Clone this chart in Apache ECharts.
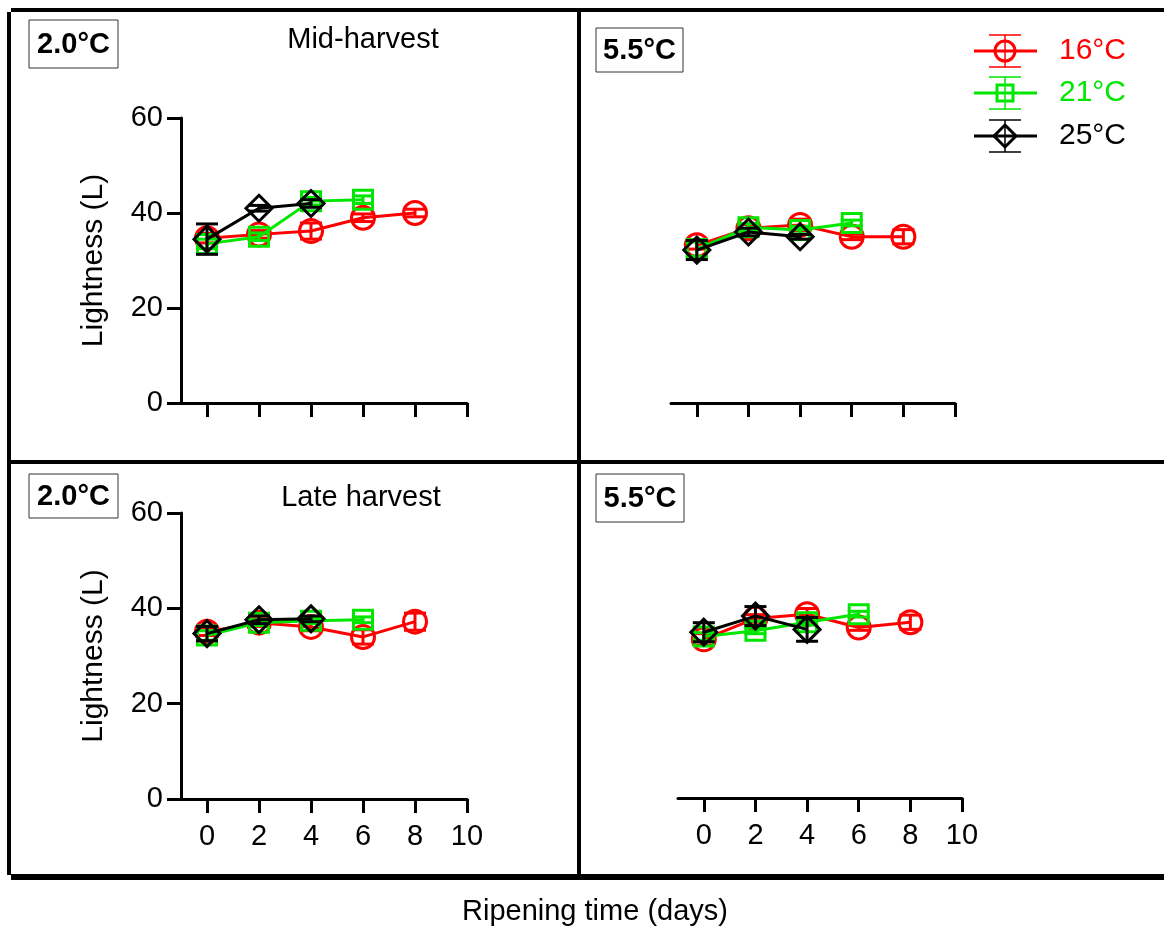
<!DOCTYPE html>
<html>
<head>
<meta charset="utf-8">
<script src="https://cdn.jsdelivr.net/npm/echarts@6/dist/echarts.min.js"></script>
<style>
  html, body { margin: 0; padding: 0; background: #fff; }
  #chart { width: 1164px; height: 930px; }
</style>
</head>
<body>
<div id="chart"></div>
<script>
// ripening days
const days = [0, 2, 4, 6, 8];
const dayTicks = [0, 2, 4, 6, 8, 10];

// Mid-harvest, stored at 2.0°C
const mid20_16 = [34.7, 35.5, 36.2, 39.0, 40.0];
const mid20_16err = [1.0, 0.8, 1.7, 0.8, 0.8];
const mid20_21 = [33.5, 35.0, 42.5, 42.8];
const mid20_21err = [1.0, 0.8, 0.8, 0.8];
const mid20_25 = [34.5, 41.0, 42.0];
const mid20_25err = [3.2, 0.6, 0.8];

// Mid-harvest, stored at 5.5°C
const mid55_16 = [33.2, 36.8, 37.5, 35.0, 35.0];
const mid55_16err = [0.8, 0.8, 1.2, 0.6, 1.5];
const mid55_21 = [32.4, 37.0, 36.4, 37.9];
const mid55_21err = [1.5, 0.8, 0.8, 0.6];
const mid55_25 = [32.2, 36.0, 35.0];
const mid55_25err = [2.0, 0.8, 0.5];

// Late harvest, stored at 2.0°C
const late20_16 = [35.1, 37.0, 36.1, 34.0, 37.2];
const late20_16err = [0.8, 0.8, 0.8, 1.5, 1.8];
const late20_21 = [34.3, 37.0, 37.4, 37.6];
const late20_21err = [1.0, 0.6, 0.6, 0.6];
const late20_25 = [34.7, 37.6, 37.8];
const late20_25err = [1.5, 0.8, 0.6];

// Late harvest, stored at 5.5°C
const late55_16 = [33.4, 37.8, 38.7, 35.9, 37.0];
const late55_16err = [1.2, 0.8, 1.2, 0.6, 1.5];
const late55_21 = [34.0, 35.2, 37.0, 38.7];
const late55_21err = [0.8, 0.6, 0.6, 0.6];
const late55_25 = [34.9, 38.3, 35.5];
const late55_25err = [2.0, 2.0, 2.5];

const temps = ['16°C', '21°C', '25°C'];
const colors = ['#ff0000', '#00e600', '#000000'];
const symbols = ['circle', 'rect', 'diamond'];
const symbolSizes = [23, 19, 26];

const FONT = 'Liberation Sans, Arial, sans-serif';

const panels = [
  { grid: { left: 181, top: 118, width: 286, height: 285 }, labels: false, yShow: true,
    sets: [[mid20_16, mid20_16err], [mid20_21, mid20_21err], [mid20_25, mid20_25err]] },
  { grid: { left: 671, top: 118, width: 284, height: 285 }, labels: false, yShow: false,
    sets: [[mid55_16, mid55_16err], [mid55_21, mid55_21err], [mid55_25, mid55_25err]] },
  { grid: { left: 181, top: 513, width: 286, height: 286 }, labels: true, yShow: true,
    sets: [[late20_16, late20_16err], [late20_21, late20_21err], [late20_25, late20_25err]] },
  { grid: { left: 678, top: 513, width: 284, height: 285 }, labels: true, yShow: false,
    sets: [[late55_16, late55_16err], [late55_21, late55_21err], [late55_25, late55_25err]] }
];

function renderErr(params, api) {
  const x = api.value(0), y = api.value(1), e = api.value(2);
  const hi = api.coord([x, y + e]);
  const lo = api.coord([x, y - e]);
  const hw = 11;
  const st = { stroke: api.visual('color'), lineWidth: 3 };
  return {
    type: 'group',
    children: [
      { type: 'line', shape: { x1: hi[0], y1: hi[1], x2: lo[0], y2: lo[1] }, style: st },
      { type: 'line', shape: { x1: hi[0] - hw, y1: hi[1], x2: hi[0] + hw, y2: hi[1] }, style: st },
      { type: 'line', shape: { x1: lo[0] - hw, y1: lo[1], x2: lo[0] + hw, y2: lo[1] }, style: st }
    ]
  };
}

const grids = [], xAxes = [], yAxes = [], series = [];
panels.forEach((p, i) => {
  grids.push(p.grid);
  xAxes.push({
    type: 'value', gridIndex: i, min: -1, max: 10,
    splitLine: { show: false },
    axisLine: { show: true, onZero: false, lineStyle: { color: '#000', width: 3 } },
    axisTick: { show: true, length: 14, customValues: dayTicks, lineStyle: { color: '#000', width: 3 } },
    axisLabel: { show: p.labels, customValues: dayTicks, margin: 23, color: '#000', fontSize: 29, fontFamily: FONT }
  });
  yAxes.push({
    type: 'value', gridIndex: i, min: 0, max: 60, interval: 20, show: p.yShow,
    name: 'Lightness (L)', nameLocation: 'middle', nameGap: 72,
    nameTextStyle: { color: '#000', fontSize: 30, fontFamily: FONT },
    splitLine: { show: false },
    axisLine: { show: true, onZero: false, lineStyle: { color: '#000', width: 3 } },
    axisTick: { show: true, length: 14, lineStyle: { color: '#000', width: 3 } },
    axisLabel: { margin: 18, color: '#000', fontSize: 29, fontFamily: FONT }
  });
  p.sets.forEach((s, k) => {
    const vals = s[0], errs = s[1];
    series.push({
      type: 'custom', name: temps[k], xAxisIndex: i, yAxisIndex: i,
      itemStyle: { color: colors[k] },
      renderItem: renderErr,
      data: vals.map((v, j) => [days[j], v, errs[j]]),
      z: 2 + k * 2
    });
    series.push({
      type: 'line', name: temps[k], xAxisIndex: i, yAxisIndex: i,
      data: vals.map((v, j) => [days[j], v]),
      symbol: symbols[k], symbolSize: symbolSizes[k],
      lineStyle: { color: colors[k], width: 3 },
      itemStyle: { color: 'rgba(0,0,0,0)', borderColor: colors[k], borderWidth: 3 },
      animation: false,
      z: 3 + k * 2
    });
  });
});

// frame, panel labels, legend
const thick = (x1, y1, x2, y2, w) => ({
  type: 'line', shape: { x1, y1, x2, y2 }, style: { stroke: '#000', lineWidth: w }
});
const boxLabel = (x, y, w, h, t) => ({
  type: 'group', children: [
    { type: 'rect', shape: { x, y, width: w, height: h }, style: { fill: '#fff', stroke: '#333', lineWidth: 1 } },
    { type: 'text', x: x + w / 2, y: y + h / 2 + 1,
      style: { text: t, fill: '#000', font: 'bold 29px ' + FONT, align: 'center', verticalAlign: 'middle' } }
  ]
});
const plainText = (x, y, t, size, color) => ({
  type: 'text', x, y,
  style: { text: t, fill: color || '#000', font: size + 'px ' + FONT, align: 'center', verticalAlign: 'middle' }
});

const legendRows = [51, 93, 136];
const legendItems = [];
legendRows.forEach((ly, k) => {
  const c = colors[k];
  const cx = 1005;
  legendItems.push({ type: 'line', shape: { x1: 974, y1: ly, x2: 1037, y2: ly }, style: { stroke: c, lineWidth: 3 } });
  legendItems.push({ type: 'line', shape: { x1: cx, y1: ly - 16, x2: cx, y2: ly + 16 }, style: { stroke: c, lineWidth: 1.5 } });
  legendItems.push({ type: 'line', shape: { x1: cx - 16, y1: ly - 16, x2: cx + 16, y2: ly - 16 }, style: { stroke: c, lineWidth: 1.5 } });
  legendItems.push({ type: 'line', shape: { x1: cx - 16, y1: ly + 16, x2: cx + 16, y2: ly + 16 }, style: { stroke: c, lineWidth: 1.5 } });
  let mk;
  if (k === 0) mk = { type: 'circle', shape: { cx, cy: ly, r: 10 } };
  else if (k === 1) mk = { type: 'rect', shape: { x: cx - 8, y: ly - 8, width: 16, height: 16 } };
  else mk = { type: 'polygon', shape: { points: [[cx, ly - 11], [cx + 11, ly], [cx, ly + 11], [cx - 11, ly]] } };
  mk.style = { fill: 'rgba(0,0,0,0)', stroke: c, lineWidth: 3 };
  legendItems.push(mk);
  legendItems.push({ type: 'text', x: 1059, y: ly,
    style: { text: temps[k], fill: c, font: '30px ' + FONT, align: 'left', verticalAlign: 'middle' } });
});

const chart = echarts.init(document.getElementById('chart'), null, { renderer: 'canvas' });
chart.setOption({
  backgroundColor: '#fff',
  animation: false,
  grid: grids,
  xAxis: xAxes,
  yAxis: yAxes,
  series: series,
  graphic: [
    thick(11, 10, 1164, 10, 4),
    thick(9, 12, 9, 875, 4),
    thick(579, 10, 579, 877, 4),
    thick(11, 462, 1164, 462, 4),
    thick(11, 877, 1164, 877, 6),
    boxLabel(29, 20, 89, 48, '2.0°C'),
    boxLabel(596, 28, 87, 44, '5.5°C'),
    boxLabel(29, 474, 89, 44, '2.0°C'),
    boxLabel(596, 474, 88, 48, '5.5°C'),
    plainText(363, 40, 'Mid-harvest', 29),
    plainText(361, 498, 'Late harvest', 29),
    plainText(595, 912, 'Ripening time (days)', 29),
    ...legendItems
  ]
});
</script>
</body>
</html>
